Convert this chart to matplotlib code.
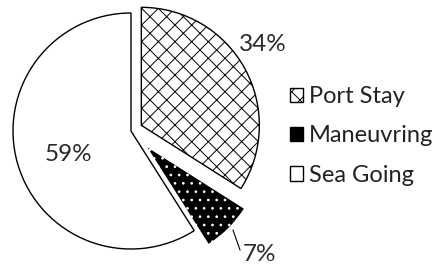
import matplotlib
matplotlib.use("Agg")
import matplotlib.pyplot as plt
from matplotlib.patches import Patch

labels = ["Port Stay", "Maneuvring", "Sea Going"]
shares = [34, 7, 59]
pct_text = ["34%", "7%", "59%"]

plt.rcParams['font.family'] = ['Lato', 'DejaVu Sans']
plt.rcParams['hatch.linewidth'] = 0.7

fig = plt.figure(figsize=(4.41, 2.64), dpi=100)
ax = fig.add_axes([0, 0, 1, 1])

wedges, _ = ax.pie(shares, explode=[0.1, 0.17, 0], startangle=90, counterclock=False,
                   radius=1.0, wedgeprops=dict(edgecolor='black', linewidth=1.0))
wedges[0].set_facecolor('white')
wedges[0].set_hatch('xx')
wedges[1].set_facecolor('black')
wedges[1].set_hatch('..')
try:
    wedges[1].set_hatchcolor('white')
except AttributeError:
    wedges[1].set_edgecolor('white')
wedges[2].set_facecolor('white')

# pixel scale 118 px per unit, centre at (131,131)
ax.set_xlim(-131 / 118, (441 - 131) / 118)
ax.set_ylim(-(264 - 131) / 118, 131 / 118)
ax.set_aspect('auto')
ax.axis('off')

tc = '#2a2a2a'
ax.text(1.12, 0.73, pct_text[0], ha='center', va='center', fontsize=17.5, color=tc)
ax.text(-0.534, -0.203, pct_text[2], ha='center', va='center', fontsize=17.5, color=tc)
ax.annotate(pct_text[1], xy=(0.864, -0.839), xytext=(1.09, -1.045),
            ha='center', va='center', fontsize=17.5, color=tc,
            arrowprops=dict(arrowstyle='-', lw=0.8, color='black',
                            shrinkA=0, shrinkB=0, relpos=(0.05, 0.1)))

handles = [Patch(facecolor='white', edgecolor='black', hatch='xx'),
           Patch(facecolor='black', edgecolor='black', hatch='..'),
           Patch(facecolor='white', edgecolor='black')]
leg = fig.legend(handles, labels, loc='upper left', bbox_to_anchor=(0.637, 0.71),
                 frameon=False, fontsize=17, handlelength=0.55, handleheight=0.55,
                 handletextpad=0.25, labelspacing=0.78, borderaxespad=0)
for t in leg.get_texts():
    t.set_color('#222222')

fig.savefig("out.png", dpi=100)
